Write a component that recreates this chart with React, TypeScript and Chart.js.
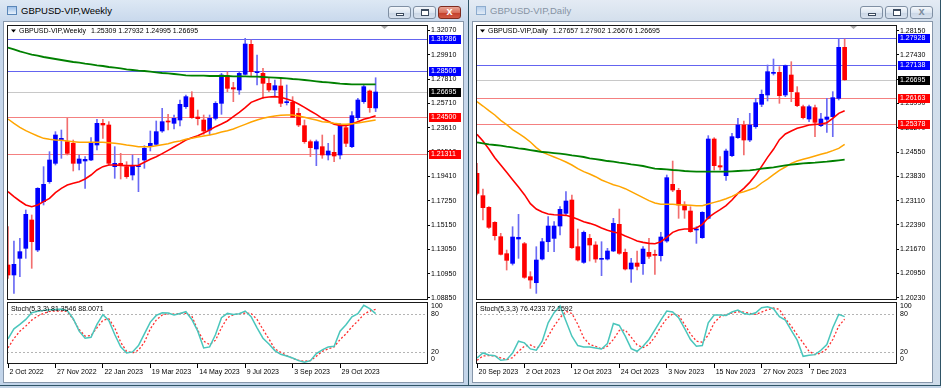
import React, { useEffect, useRef } from 'react';
import { Chart, registerables } from 'chart.js';

Chart.register(...registerables);

const FONT = '"Liberation Sans", Arial, sans-serif';

// ---------------- Weekly (left window) ----------------
const W_OPEN = [
  1.11696, 1.10829, 1.12274, 1.13141, 1.15597, 1.12997, 1.17187, 1.18921, 1.20511, 1.22533,
  1.22389, 1.22244, 1.20511, 1.20713, 1.20799, 1.22100, 1.23979, 1.23834, 1.20222, 1.20511,
  1.20222, 1.19499, 1.20222, 1.20799, 1.21955, 1.22158, 1.23314, 1.24181, 1.23979, 1.24267,
  1.25424, 1.26204, 1.24528, 1.24267, 1.23401, 1.24412, 1.25713, 1.28111, 1.27071, 1.26869,
  1.28227, 1.30828, 1.28371, 1.28314, 1.27447, 1.26869, 1.27215, 1.25771, 1.25799, 1.24845,
  1.23776, 1.22389, 1.21753, 1.21955, 1.21233, 1.21464, 1.21233, 1.23603, 1.21955, 1.24470,
  1.25857, 1.26782, 1.25309,
];
const W_HIGH = [
  1.15019, 1.13777, 1.14008, 1.16464, 1.16031, 1.18400, 1.20221, 1.21522, 1.23256, 1.23401,
  1.24412, 1.22533, 1.21233, 1.21089, 1.22736, 1.24325, 1.24325, 1.24123, 1.21956, 1.21378,
  1.20655, 1.21233, 1.20944, 1.22042, 1.23314, 1.24181, 1.25279, 1.24759, 1.24701, 1.26001,
  1.26435, 1.26724, 1.25134, 1.24701, 1.24701, 1.25857, 1.28314, 1.28458, 1.27533, 1.28458,
  1.31348, 1.31203, 1.29903, 1.28747, 1.27880, 1.27735, 1.27880, 1.27302, 1.26291, 1.25279,
  1.24267, 1.22533, 1.22533, 1.22967, 1.22244, 1.22967, 1.23979, 1.23834, 1.24990, 1.26146,
  1.27302, 1.26869, 1.27932,
];
const W_LOW = [
  1.10540, 1.09239, 1.10684, 1.12274, 1.11407, 1.12852, 1.16898, 1.18777, 1.20366, 1.20944,
  1.21233, 1.19846, 1.19933, 1.18343, 1.20742, 1.21666, 1.22678, 1.20366, 1.19210, 1.19152,
  1.19210, 1.19065, 1.18054, 1.20077, 1.21580, 1.22042, 1.23198, 1.23401, 1.23487, 1.23747,
  1.25279, 1.24412, 1.23834, 1.23025, 1.22967, 1.24267, 1.24759, 1.26724, 1.25857, 1.26493,
  1.28169, 1.28024, 1.27302, 1.26146, 1.26724, 1.26291, 1.25424, 1.25568, 1.24470, 1.23690,
  1.22244, 1.21089, 1.20308, 1.20944, 1.20800, 1.20655, 1.20886, 1.21955, 1.21869, 1.24267,
  1.25713, 1.24932, 1.24995,
];
const W_CLOSE = [
  1.10829, 1.11754, 1.12852, 1.16089, 1.13719, 1.18343, 1.18690, 1.20799, 1.22967, 1.22678,
  1.21377, 1.20511, 1.20886, 1.20857, 1.22244, 1.23979, 1.23834, 1.20511, 1.20511, 1.20308,
  1.19355, 1.20308, 1.20308, 1.21811, 1.22244, 1.23256, 1.24123, 1.24094, 1.24412, 1.25626,
  1.26291, 1.24470, 1.24383, 1.23314, 1.24412, 1.25713, 1.28169, 1.27013, 1.26955, 1.28314,
  1.30857, 1.28458, 1.28458, 1.27447, 1.26869, 1.27244, 1.25713, 1.25857, 1.24499, 1.23834,
  1.22389, 1.21869, 1.22389, 1.21233, 1.21580, 1.21146, 1.23834, 1.22244, 1.24643, 1.26001,
  1.27157, 1.25337, 1.26695,
];
const W_MA_RED = [
  1.18054, 1.17620, 1.17245, 1.16898, 1.16753, 1.16898, 1.17187, 1.17476, 1.17967, 1.18343,
  1.18632, 1.18776, 1.18921, 1.19152, 1.19499, 1.19932, 1.20221, 1.20366, 1.20366, 1.20337,
  1.20308, 1.20308, 1.20337, 1.20597, 1.20857, 1.21088, 1.21349, 1.21638, 1.21927, 1.22216,
  1.22533, 1.22736, 1.22909, 1.23140, 1.23400, 1.23689, 1.23921, 1.24181, 1.24556, 1.24932,
  1.25337, 1.25799, 1.26001, 1.26204, 1.26262, 1.26290, 1.26233, 1.26088, 1.25915, 1.25655,
  1.25366, 1.25048, 1.24759, 1.24412, 1.24152, 1.23892, 1.23805, 1.23776, 1.23921, 1.24123,
  1.24325, 1.24470, 1.24643,
];
const W_MA_ORANGE = [
  1.24354, 1.23978, 1.23632, 1.23343, 1.23111, 1.22880, 1.22678, 1.22591, 1.22533, 1.22505,
  1.22447, 1.22389, 1.22331, 1.22331, 1.22331, 1.22331, 1.22331, 1.22302, 1.22244, 1.22187,
  1.22100, 1.22042, 1.21955, 1.21955, 1.21955, 1.22042, 1.22129, 1.22216, 1.22360, 1.22447,
  1.22591, 1.22678, 1.22794, 1.22880, 1.22967, 1.23083, 1.23227, 1.23343, 1.23487, 1.23689,
  1.23892, 1.24094, 1.24267, 1.24412, 1.24528, 1.24614, 1.24672, 1.24701, 1.24701, 1.24614,
  1.24499, 1.24383, 1.24267, 1.24123, 1.24065, 1.23978, 1.23921, 1.23892, 1.23950, 1.24007,
  1.24094, 1.24181, 1.24267,
];
const W_MA_GREEN = [
  1.30539, 1.30394, 1.30221, 1.30076, 1.29932, 1.29845, 1.29730, 1.29643, 1.29556, 1.29469,
  1.29383, 1.29296, 1.29238, 1.29152, 1.29094, 1.29007, 1.28949, 1.28863, 1.28805, 1.28747,
  1.28660, 1.28602, 1.28545, 1.28516, 1.28458, 1.28400, 1.28342, 1.28313, 1.28256, 1.28198,
  1.28140, 1.28111, 1.28111, 1.28111, 1.28082, 1.28082, 1.28082, 1.28082, 1.28053, 1.28053,
  1.28053, 1.28024, 1.28024, 1.27996, 1.27967, 1.27938, 1.27909, 1.27880, 1.27822, 1.27793,
  1.27735, 1.27678, 1.27620, 1.27562, 1.27533, 1.27475, 1.27418, 1.27389, 1.27360, 1.27360,
  1.27360, 1.27360, 1.27360,
];
const W_STOCH_MAIN = [
  40.5, 56.8, 63.8, 71.9, 82.7, 84.9, 86.5, 87.6, 88.1, 88.6,
  86.0, 73.0, 53.0, 41.6, 43.2, 63.8, 79.5, 70.3, 47.6, 27.6,
  17.8, 19.5, 29.7, 48.6, 67.6, 78.4, 82.7, 82.2, 78.9, 81.6,
  84.3, 71.9, 53.0, 26.0, 27.6, 47.6, 74.6, 81.6, 80.0, 81.1,
  85.4, 76.2, 58.4, 41.6, 32.4, 21.6, 15.7, 13.0, 9.7, 5.4,
  2.7, 5.4, 16.8, 22.7, 27.6, 28.7, 53.0, 63.2, 76.2, 81.1,
  94.6, 89.2, 81.35,
];
const W_STOCH_SIGNAL = [
  25.9, 41.1, 53.0, 61.1, 70.8, 77.3, 81.6, 84.9, 85.4, 85.4,
  84.9, 71.9, 55.7, 44.9, 45.9, 58.4, 70.3, 73.0, 58.4, 35.1,
  20.5, 17.8, 22.2, 35.1, 56.8, 70.8, 78.9, 81.6, 80.5, 81.6,
  81.6, 77.3, 54.6, 36.8, 31.4, 38.4, 58.4, 74.6, 79.5, 81.1,
  82.2, 81.6, 71.9, 55.7, 40.5, 24.3, 18.9, 13.5, 9.2, 5.9,
  4.3, 5.4, 12.4, 20.5, 24.3, 27.6, 39.5, 48.6, 60.0, 69.2,
  80.0, 85.4, 88.0,
];
const W_Y_TICKS = [1.32070, 1.29910, 1.27810, 1.25710, 1.23610, 1.21510, 1.19410, 1.17250, 1.15150, 1.13050, 1.10950, 1.08850];
const W_Y_MIN = 1.08661;
const W_Y_MAX = 1.32504;
const W_X_LABELS = ['2 Oct 2022', '27 Nov 2022', '22 Jan 2023', '19 Mar 2023', '14 May 2023', '9 Jul 2023', '3 Sep 2023', '29 Oct 2023'];
const W_LEVELS = [1.31286, 1.28506, 1.26695, 1.24500, 1.21311];
const W_LEVEL_KINDS = ['blue', 'blue', 'current', 'red', 'red'];
const W_NAME = 'GBPUSD-VIP,Weekly';
const W_QUOTE = '1.25309 1.27932 1.24995 1.26695';
const W_STOCH_TEXT = 'Stoch(5,3,3) 81.3546 88.0071';

// ---------------- Daily (right window) ----------------
const D_OPEN = [
  1.23919, 1.23257, 1.22911, 1.22466, 1.22041, 1.21537, 1.21250, 1.21972, 1.21833, 1.20854,
  1.20676, 1.21378, 1.21892, 1.21991, 1.22357, 1.22733, 1.23128, 1.21744, 1.21279, 1.21991,
  1.21794, 1.21369, 1.21378, 1.21616, 1.22407, 1.21576, 1.21082, 1.21260, 1.21240, 1.21576,
  1.21517, 1.21477, 1.21912, 1.23593, 1.23415, 1.22980, 1.22802, 1.22239, 1.22011, 1.22585,
  1.24938, 1.24147, 1.23850, 1.24443, 1.24977, 1.25353, 1.24908, 1.25303, 1.25966, 1.26243,
  1.26885, 1.26915, 1.26243, 1.26836, 1.26312, 1.25897, 1.25531, 1.25867, 1.25333, 1.25521,
  1.25600, 1.26144, 1.27657,
];
const D_HIGH = [
  1.24216, 1.23455, 1.22931, 1.22486, 1.22140, 1.21645, 1.22337, 1.22703, 1.21873, 1.21003,
  1.21744, 1.21991, 1.22634, 1.22486, 1.22931, 1.23375, 1.23277, 1.22268, 1.22209, 1.22110,
  1.21892, 1.21892, 1.21695, 1.22585, 1.22861, 1.21675, 1.21398, 1.21616, 1.21744, 1.21991,
  1.21645, 1.22169, 1.23870, 1.24285, 1.23474, 1.23079, 1.22931, 1.22337, 1.22782, 1.25037,
  1.24977, 1.24414, 1.24641, 1.25106, 1.25551, 1.25472, 1.25699, 1.26144, 1.26391, 1.27133,
  1.27311, 1.27083, 1.27133, 1.27231, 1.26490, 1.25946, 1.25946, 1.25946, 1.25699, 1.26144,
  1.26342, 1.27924, 1.27902,
];
const D_LOW = [
  1.23277, 1.22535, 1.22288, 1.21942, 1.21497, 1.21052, 1.21200, 1.21398, 1.20805, 1.20508,
  1.20360, 1.21349, 1.21596, 1.21596, 1.22090, 1.22683, 1.21695, 1.21319, 1.21250, 1.21319,
  1.21279, 1.20884, 1.21349, 1.21596, 1.21517, 1.21052, 1.20686, 1.21052, 1.20924, 1.21398,
  1.20924, 1.21319, 1.21873, 1.23375, 1.22585, 1.22585, 1.22169, 1.21843, 1.21991, 1.22565,
  1.24018, 1.24018, 1.23712, 1.24414, 1.24957, 1.24463, 1.24859, 1.25254, 1.25897, 1.26065,
  1.26836, 1.25996, 1.26193, 1.26045, 1.25897, 1.25531, 1.25452, 1.25007, 1.25303, 1.25135,
  1.25007, 1.26094, 1.26676,
];
const D_CLOSE = [
  1.23326, 1.22901, 1.22318, 1.22070, 1.21517, 1.21339, 1.22031, 1.22021, 1.20835, 1.20755,
  1.21349, 1.21892, 1.22357, 1.22357, 1.22852, 1.23099, 1.21714, 1.21349, 1.22169, 1.21794,
  1.21378, 1.21398, 1.21616, 1.22436, 1.21547, 1.21082, 1.21260, 1.21161, 1.21675, 1.21457,
  1.21487, 1.22031, 1.23791, 1.23425, 1.22980, 1.22832, 1.22189, 1.22268, 1.22763, 1.24938,
  1.24147, 1.24107, 1.24582, 1.25007, 1.25353, 1.24908, 1.25353, 1.26015, 1.26263, 1.26935,
  1.26915, 1.26223, 1.27113, 1.26342, 1.25926, 1.25570, 1.25897, 1.25432, 1.25531, 1.25590,
  1.26164, 1.27657, 1.26695,
];
const D_MA_RED = [
  1.25076, 1.24878, 1.24641, 1.24384, 1.24166, 1.23949, 1.23731, 1.23514, 1.23287, 1.23020,
  1.22861, 1.22772, 1.22713, 1.22693, 1.22683, 1.22674, 1.22624, 1.22555, 1.22486, 1.22436,
  1.22377, 1.22298, 1.22229, 1.22179, 1.22140, 1.22061, 1.21991, 1.21912, 1.21873, 1.21843,
  1.21833, 1.21892, 1.22021, 1.22169, 1.22239, 1.22268, 1.22268, 1.22298, 1.22407, 1.22604,
  1.22733, 1.22842, 1.22960, 1.23128, 1.23326, 1.23474, 1.23652, 1.23870, 1.24127, 1.24394,
  1.24631, 1.24918, 1.25086, 1.25175, 1.25254, 1.25303, 1.25353, 1.25373, 1.25383, 1.25422,
  1.25551, 1.25699, 1.25778,
];
const D_MA_ORANGE = [
  1.26045, 1.25916, 1.25778, 1.25650, 1.25491, 1.25363, 1.25215, 1.25106, 1.24987, 1.24849,
  1.24681, 1.24552, 1.24473, 1.24404, 1.24335, 1.24255, 1.24166, 1.24058, 1.23969, 1.23899,
  1.23820, 1.23722, 1.23652, 1.23583, 1.23534, 1.23464, 1.23375, 1.23287, 1.23198, 1.23109,
  1.23039, 1.23000, 1.23000, 1.23000, 1.22990, 1.22980, 1.22970, 1.22960, 1.22960, 1.23010,
  1.23059, 1.23109, 1.23168, 1.23237, 1.23326, 1.23375, 1.23435, 1.23494, 1.23633, 1.23751,
  1.23880, 1.24008, 1.24107, 1.24216, 1.24285, 1.24335, 1.24384, 1.24433, 1.24483, 1.24532,
  1.24592, 1.24661, 1.24779,
];
const D_MA_GREEN = [
  1.24839, 1.24809, 1.24779, 1.24760, 1.24740, 1.24710, 1.24690, 1.24661, 1.24641, 1.24611,
  1.24582, 1.24552, 1.24542, 1.24522, 1.24503, 1.24483, 1.24453, 1.24433, 1.24404, 1.24364,
  1.24344, 1.24315, 1.24285, 1.24265, 1.24236, 1.24216, 1.24186, 1.24166, 1.24137, 1.24097,
  1.24058, 1.24048, 1.24038, 1.24018, 1.24008, 1.23989, 1.23979, 1.23969, 1.23969, 1.23969,
  1.23969, 1.23969, 1.23969, 1.23979, 1.23989, 1.23998, 1.24008, 1.24028, 1.24058, 1.24078,
  1.24097, 1.24127, 1.24157, 1.24176, 1.24196, 1.24216, 1.24226, 1.24236, 1.24255, 1.24265,
  1.24285, 1.24305, 1.24325,
];
const D_STOCH_MAIN = [
  9.7, 17.8, 14.6, 13.5, 5.9, 7.0, 17.8, 36.8, 34.1, 24.3,
  22.2, 36.8, 66.5, 82.7, 93.5, 69.2, 44.9, 29.7, 27.6, 27.6,
  25.9, 24.3, 33.0, 65.4, 62.2, 44.9, 24.9, 20.5, 28.7, 39.5,
  55.1, 70.8, 85.4, 83.8, 74.6, 57.3, 39.5, 28.7, 29.7, 66.5,
  78.9, 78.9, 78.4, 83.8, 87.0, 81.6, 80.0, 82.7, 90.8, 92.4,
  89.2, 76.2, 70.8, 54.1, 38.4, 12.4, 14.1, 15.1, 22.2, 31.4,
  58.4, 80.0, 76.42,
];
const D_STOCH_SIGNAL = [
  5.9, 13.0, 13.5, 13.0, 9.7, 7.0, 10.3, 20.5, 28.6, 30.8,
  25.9, 28.6, 44.9, 61.1, 74.6, 84.9, 81.6, 63.8, 42.2, 31.4,
  28.6, 24.3, 28.6, 39.5, 54.1, 54.6, 43.2, 30.8, 26.5, 31.4,
  43.8, 60.0, 73.5, 81.1, 78.4, 63.8, 48.6, 36.8, 35.1, 46.5,
  66.5, 76.2, 79.5, 82.2, 84.3, 83.8, 81.6, 80.0, 83.8, 87.6,
  90.3, 88.1, 73.0, 61.1, 47.0, 34.1, 20.5, 15.1, 17.8, 24.3,
  39.5, 61.1, 72.16,
];
const D_Y_TICKS = [1.28150, 1.27430, 1.26710, 1.25990, 1.25270, 1.24550, 1.23830, 1.23110, 1.22390, 1.21670, 1.20950, 1.20230];
const D_Y_MIN = 1.20163;
const D_Y_MAX = 1.28319;
const D_X_LABELS = ['20 Sep 2023', '2 Oct 2023', '12 Oct 2023', '24 Oct 2023', '3 Nov 2023', '15 Nov 2023', '27 Nov 2023', '7 Dec 2023'];
const D_LEVELS = [1.27928, 1.27138, 1.26695, 1.26163, 1.25378];
const D_LEVEL_KINDS = ['blue', 'blue', 'current', 'red', 'red'];
const D_NAME = 'GBPUSD-VIP,Daily';
const D_QUOTE = '1.27657 1.27902 1.26676 1.26695';
const D_STOCH_TEXT = 'Stoch(5,3,3) 76.4233 72.1592';

// shared
const X_LABEL_INDEX = [0, 8, 16, 24, 32, 40, 48, 56];
const X_MIN = -0.17;
const X_MAX = 70.83;
const STOCH_LEVELS = [80, 20];
const STOCH_AXIS_LABELS = [100, 80, 20, 0];

const BULL = '#0000ff';
const BEAR = '#ff0000';
const BULL_WICK = '#6a6af4';
const BEAR_WICK = '#f26e6e';
const LEVEL_LINE = { blue: '#6464f0', red: '#f48080', current: '#c8c8c8' };
const LEVEL_BG = { blue: '#0000ff', red: '#ff0000', current: '#000000' };

const CANVAS_W = 459;
const MAIN_H = 279;
const STOCH_H = 80;
const AXIS_W = 35;

function font(size) {
  return size + 'px ' + FONT;
}

function MainPane({ cfg }) {
  const ref = useRef(null);
  useEffect(() => {
    const idx = cfg.close.map((_, i) => i);
    const up = idx.map((i) => cfg.close[i] >= cfg.open[i]);
    const line = (arr, color, width) => ({
      type: 'line',
      data: arr.map((v, i) => ({ x: i, y: v })),
      borderColor: color,
      borderWidth: width,
      pointRadius: 0,
      tension: 0,
      fill: false,
      order: 0,
    });
    const plugin = {
      id: 'mt4main',
      beforeDatasetsDraw(chart) {
        const { ctx, chartArea: a, scales } = chart;
        const y = scales.y;
        ctx.save();
        ctx.lineWidth = 1;
        cfg.levels.forEach((v, k) => {
          const py = Math.round(y.getPixelForValue(v)) + 0.5;
          ctx.strokeStyle = LEVEL_LINE[cfg.levelKinds[k]];
          ctx.beginPath();
          ctx.moveTo(a.left, py);
          ctx.lineTo(a.right, py);
          ctx.stroke();
        });
        ctx.restore();
      },
      afterDraw(chart) {
        const { ctx, chartArea: a, scales } = chart;
        const y = scales.y;
        ctx.save();
        ctx.strokeStyle = '#1a1a1a';
        ctx.lineWidth = 1;
        ctx.strokeRect(a.left + 0.5, a.top + 0.5, a.right - a.left - 1, a.bottom - a.top - 1);
        // price labels
        ctx.font = font(7);
        ctx.textBaseline = 'middle';
        ctx.textAlign = 'left';
        cfg.levels.forEach((v, k) => {
          const py = Math.round(y.getPixelForValue(v));
          ctx.fillStyle = LEVEL_BG[cfg.levelKinds[k]];
          ctx.fillRect(a.right + 1, py - 4, 32, 9);
          ctx.fillStyle = '#ffffff';
          ctx.fillText(v.toFixed(5), a.right + 3, py + 0.5);
        });
        // legend
        ctx.fillStyle = '#000';
        ctx.beginPath();
        ctx.moveTo(a.left + 4, a.top + 4.5);
        ctx.lineTo(a.left + 9, a.top + 4.5);
        ctx.lineTo(a.left + 6.5, a.top + 7.5);
        ctx.closePath();
        ctx.fill();
        const ty = a.top + 6.5;
        ctx.fillText(cfg.name, a.left + 12, ty);
        const w = ctx.measureText(cfg.name).width;
        ctx.fillText(cfg.quote, a.left + 12 + w + 5, ty);
        // shift marker
        ctx.fillStyle = '#a8a8a8';
        ctx.beginPath();
        ctx.moveTo(a.right - 47, a.top + 1);
        ctx.lineTo(a.right - 40, a.top + 1);
        ctx.lineTo(a.right - 43.5, a.top + 4);
        ctx.closePath();
        ctx.fill();
        ctx.restore();
      },
    };
    const chart = new Chart(ref.current, {
      type: 'bar',
      data: {
        datasets: [
          line(cfg.maGreen, '#008000', 1.8),
          line(cfg.maOrange, '#ffa500', 1.5),
          line(cfg.maRed, '#ff0000', 1.6),
          {
            type: 'bar',
            data: idx.map((i) => ({ x: i, y: [Math.min(cfg.open[i], cfg.close[i]), Math.max(cfg.open[i], cfg.close[i])] })),
            backgroundColor: up.map((u) => (u ? BULL : BEAR)),
            borderWidth: 0,
            barThickness: 4,
            maxBarThickness: 4,
            minBarLength: 1,
            grouped: false,
            order: 1,
          },
          {
            type: 'bar',
            data: idx.map((i) => ({ x: i, y: [cfg.low[i], cfg.high[i]] })),
            backgroundColor: up.map((u) => (u ? BULL_WICK : BEAR_WICK)),
            borderWidth: 0,
            barThickness: 1,
            maxBarThickness: 1,
            grouped: false,
            order: 2,
          },
        ],
      },
      options: {
        animation: false,
        responsive: false,
        maintainAspectRatio: false,
        devicePixelRatio: 1,
        events: [],
        layout: { padding: { left: 3, top: 3, right: 0, bottom: 1 } },
        plugins: { legend: { display: false }, tooltip: { enabled: false } },
        scales: {
          x: { type: 'linear', min: X_MIN, max: X_MAX, display: false, offset: false, grid: { offset: false } },
          y: {
            position: 'right',
            min: cfg.yMin,
            max: cfg.yMax,
            afterBuildTicks: (s) => {
              s.ticks = cfg.yTicks.map((v) => ({ value: v }));
            },
            afterFit: (s) => {
              s.width = AXIS_W;
              s.paddingTop = 0;
              s.paddingBottom = 0;
            },
            ticks: {
              autoSkip: false,
              padding: 1,
              color: '#000',
              font: { family: FONT, size: 7 },
              callback: (v) => Number(v).toFixed(5),
            },
            grid: { drawOnChartArea: false, drawTicks: true, tickLength: 2, color: '#000', lineWidth: 1 },
            border: { display: false },
          },
        },
      },
      plugins: [plugin],
    });
    return () => chart.destroy();
  }, []);
  return (
    <canvas
      ref={ref}
      width={CANVAS_W}
      height={MAIN_H}
      style={{ position: 'absolute', left: 0, top: 0, width: CANVAS_W, height: MAIN_H }}
    />
  );
}

function StochPane({ cfg }) {
  const ref = useRef(null);
  useEffect(() => {
    const plugin = {
      id: 'mt4stoch',
      beforeDatasetsDraw(chart) {
        const { ctx, chartArea: a, scales } = chart;
        ctx.save();
        ctx.strokeStyle = '#b4b4b4';
        ctx.lineWidth = 1;
        ctx.setLineDash([2, 2]);
        STOCH_LEVELS.forEach((v) => {
          const py = Math.round(scales.y.getPixelForValue(v)) + 0.5;
          ctx.beginPath();
          ctx.moveTo(a.left, py);
          ctx.lineTo(a.right, py);
          ctx.stroke();
        });
        ctx.restore();
      },
      afterDraw(chart) {
        const { ctx, chartArea: a, scales } = chart;
        ctx.save();
        ctx.strokeStyle = '#1a1a1a';
        ctx.lineWidth = 1;
        ctx.strokeRect(a.left + 0.5, a.top + 0.5, a.right - a.left - 1, a.bottom - a.top - 1);
        ctx.font = font(7);
        ctx.fillStyle = '#000';
        ctx.textBaseline = 'middle';
        ctx.textAlign = 'left';
        STOCH_AXIS_LABELS.forEach((v) => {
          let py = scales.y.getPixelForValue(v);
          py = Math.max(a.top + 4.5, Math.min(a.bottom - 4.5, py));
          ctx.fillText(String(v), a.right + 3, py);
        });
        ctx.fillText(cfg.stochText, a.left + 4, a.top + 7);
        ctx.restore();
      },
    };
    const series = (arr, color, dash, width) => ({
      data: arr.map((v, i) => ({ x: i, y: v })),
      borderColor: color,
      borderWidth: width,
      borderDash: dash,
      pointRadius: 0,
      tension: 0,
      fill: false,
    });
    const chart = new Chart(ref.current, {
      type: 'line',
      data: {
        datasets: [
          series(cfg.stMain, '#4ac6bc', [], 1.5),
          series(cfg.stSignal, '#ff3030', [2, 2], 1.3),
        ],
      },
      options: {
        animation: false,
        responsive: false,
        maintainAspectRatio: false,
        devicePixelRatio: 1,
        events: [],
        layout: { padding: { left: 3, top: 1, right: 0, bottom: 1 } },
        plugins: { legend: { display: false }, tooltip: { enabled: false } },
        scales: {
          x: {
            type: 'linear',
            min: X_MIN,
            max: X_MAX,
            offset: false,
            afterBuildTicks: (s) => {
              s.ticks = X_LABEL_INDEX.map((v) => ({ value: v }));
            },
            afterFit: (s) => {
              s.height = 16;
              s.paddingLeft = 0;
              s.paddingRight = 0;
            },
            ticks: {
              autoSkip: false,
              maxRotation: 0,
              minRotation: 0,
              align: 'start',
              labelOffset: 1.5,
              padding: 0,
              color: '#000',
              font: { family: FONT, size: 7 },
              callback: (v, i) => cfg.xLabels[i],
            },
            grid: { drawOnChartArea: false, drawTicks: true, tickLength: 4, color: '#000', lineWidth: 1 },
            border: { display: false },
          },
          y: {
            position: 'right',
            min: 0,
            max: 100,
            afterFit: (s) => {
              s.width = AXIS_W;
              s.paddingTop = 0;
              s.paddingBottom = 0;
            },
            ticks: { display: false },
            grid: { display: false },
            border: { display: false },
          },
        },
      },
      plugins: [plugin],
    });
    return () => chart.destroy();
  }, []);
  return (
    <canvas
      ref={ref}
      width={CANVAS_W}
      height={STOCH_H}
      style={{ position: 'absolute', left: 0, top: MAIN_H, width: CANVAS_W, height: STOCH_H }}
    />
  );
}

function TitleButton({ kind, active, left }) {
  const isClose = kind === 'close';
  const red = isClose && active;
  const base = {
    position: 'absolute',
    left,
    top: 6,
    width: 23,
    height: 13,
    borderRadius: 3,
    boxSizing: 'border-box',
    border: red ? '1px solid #7d2b1f' : '1px solid #7f8fa3',
    background: red
      ? 'linear-gradient(180deg, #e9a697 0%, #d8705c 50%, #c4402b 55%, #d15a45 100%)'
      : 'linear-gradient(180deg, #f4f7fb 0%, #dde6f1 50%, #cbd7e6 55%, #d7e1ee 100%)',
  };
  let glyph = null;
  if (kind === 'min') {
    glyph = (
      <div style={{ position: 'absolute', left: 7, top: 6, width: 8, height: 3, boxSizing: 'border-box', border: '1px solid #3b4a5e', background: '#fff' }} />
    );
  } else if (kind === 'max') {
    glyph = (
      <div style={{ position: 'absolute', left: 7, top: 2, width: 8, height: 7, boxSizing: 'border-box', border: '1px solid #3b4a5e', borderTopWidth: 2, background: '#fff' }} />
    );
  } else {
    glyph = (
      <div style={{ position: 'absolute', left: 0, top: -2, width: 21, textAlign: 'center', font: 'bold 11px ' + FONT, color: red ? '#fff' : '#7d8b9c' }}>x</div>
    );
  }
  return <div style={base}>{glyph}</div>;
}

function MT4Window({ left, width, active, title, cfg }) {
  return (
    <div
      style={{
        position: 'absolute',
        left,
        top: 0,
        width,
        height: 386,
        boxSizing: 'border-box',
        borderRight: '1px solid #2f5466',
        borderBottom: '1px solid #2f5466',
        background: active
          ? 'linear-gradient(180deg, #dde8f4 0px, #c8d8ec 22px, #c3d5ea 100%)'
          : 'linear-gradient(180deg, #e4ebf4 0px, #d3dfec 22px, #cfdcea 100%)',
      }}
    >
      <div
        style={{
          position: 'absolute',
          left: 7,
          top: 6,
          width: 10,
          height: 9,
          boxSizing: 'border-box',
          border: '1px solid #5a86b8',
          background: 'linear-gradient(180deg, #9cc0ea, #e8f1fb)',
          opacity: active ? 1 : 0.6,
        }}
      />
      <div
        style={{
          position: 'absolute',
          left: 21,
          top: 5,
          font: '9.5px ' + FONT,
          color: active ? '#000' : '#8693a3',
          whiteSpace: 'nowrap',
        }}
      >
        {title}
      </div>
      <TitleButton kind="min" active={active} left={width - 81} />
      <TitleButton kind="max" active={active} left={width - 56} />
      <TitleButton kind="close" active={active} left={width - 31} />
      <div
        style={{
          position: 'absolute',
          left: 4,
          top: 22,
          width: CANVAS_W,
          height: MAIN_H + STOCH_H + 1,
          background: '#fff',
          boxShadow: '0 0 0 1px #8797ab',
        }}
      >
        <MainPane cfg={cfg} />
        <StochPane cfg={cfg} />
      </div>
    </div>
  );
}

const WEEKLY = {
  open: W_OPEN, high: W_HIGH, low: W_LOW, close: W_CLOSE,
  maRed: W_MA_RED, maOrange: W_MA_ORANGE, maGreen: W_MA_GREEN,
  stMain: W_STOCH_MAIN, stSignal: W_STOCH_SIGNAL,
  yTicks: W_Y_TICKS, yMin: W_Y_MIN, yMax: W_Y_MAX,
  xLabels: W_X_LABELS, levels: W_LEVELS, levelKinds: W_LEVEL_KINDS,
  name: W_NAME, quote: W_QUOTE, stochText: W_STOCH_TEXT,
};
const DAILY = {
  open: D_OPEN, high: D_HIGH, low: D_LOW, close: D_CLOSE,
  maRed: D_MA_RED, maOrange: D_MA_ORANGE, maGreen: D_MA_GREEN,
  stMain: D_STOCH_MAIN, stSignal: D_STOCH_SIGNAL,
  yTicks: D_Y_TICKS, yMin: D_Y_MIN, yMax: D_Y_MAX,
  xLabels: D_X_LABELS, levels: D_LEVELS, levelKinds: D_LEVEL_KINDS,
  name: D_NAME, quote: D_QUOTE, stochText: D_STOCH_TEXT,
};

export default function App() {
  return (
    <div
      style={{
        position: 'fixed',
        left: 0,
        top: 0,
        width: 941,
        height: 388,
        overflow: 'hidden',
        background: '#c2d3e6',
      }}
    >
      <MT4Window left={0} width={469} active={true} title={W_NAME} cfg={WEEKLY} />
      <MT4Window left={469} width={472} active={false} title={D_NAME} cfg={DAILY} />
    </div>
  );
}
